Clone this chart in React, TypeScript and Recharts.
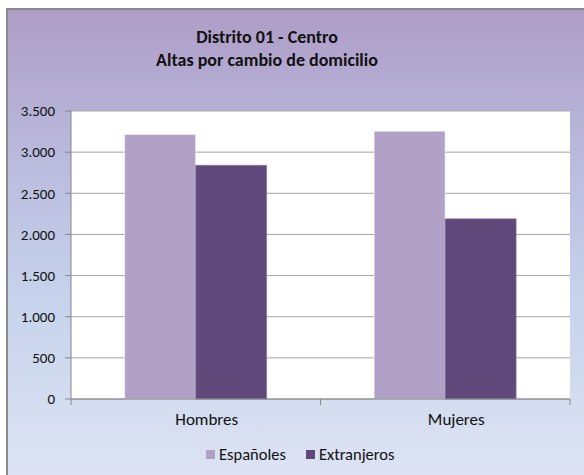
import React from 'react';
import { BarChart, Bar, XAxis, YAxis, CartesianGrid, Legend } from 'recharts';

const categories = ['Hombres', 'Mujeres'];
const espanoles = [3215, 3255];
const extranjeros = [2840, 2190];
const yTicks = [0, 500, 1000, 1500, 2000, 2500, 3000, 3500];

const data = categories.map((c, i) => ({ name: c, esp: espanoles[i], ext: extranjeros[i] }));

const FONT = 'Carlito, Lato, sans-serif';
const W = 577;
const H = 466;
const TICK_SIZE = 6;
const TICK_MARGIN = 8;

const fmt = (v: number) => String(v).replace(/\B(?=(\d{3})+(?!\d))/g, '.');

function CatTick(props: any) {
  const { x, y, payload } = props;
  const off = payload.offset || 0;
  const axisY = y - TICK_SIZE - TICK_MARGIN;
  return (
    <g>
      <line x1={x - off} x2={x - off} y1={axisY} y2={axisY + TICK_SIZE} stroke="#868686" />
      <line x1={x + off} x2={x + off} y1={axisY} y2={axisY + TICK_SIZE} stroke="#868686" />
      {/* excel pushes the category label a bit right of the band centre */}
      <text x={x + 11} y={y} dy="0.71em" textAnchor="middle" fontSize={17} fill="#111" fontFamily={FONT}>
        {payload.value}
      </text>
    </g>
  );
}

function LegendContent() {
  const items = [
    { label: 'Españoles', color: '#b2a1c7' },
    { label: 'Extranjeros', color: '#5f497a' },
  ];
  return (
    <div style={{ display: 'flex', alignItems: 'center', fontFamily: FONT, fontSize: 16.5, color: '#111' }}>
      {items.map((it) => (
        <div key={it.label} style={{ display: 'flex', alignItems: 'center', marginRight: 20 }}>
          <span style={{ width: 9, height: 9, background: it.color, marginRight: 4, display: 'inline-block' }} />
          <span>{it.label}</span>
        </div>
      ))}
    </div>
  );
}

export default function App() {
  return (
    <div
      style={{
        position: 'fixed',
        left: 6,
        top: 8,
        width: W,
        height: H,
        borderLeft: '2px solid #8a8a8a',
        borderTop: '2px solid #8a8a8a',
        background: 'linear-gradient(180deg, #ae9dc7 0%, #bbbddf 35%, #c6d3ec 62%, #dde3f3 100%)',
        fontFamily: FONT,
      }}
    >
      <div
        style={{
          position: 'absolute',
          left: 0,
          width: 518,
          top: 16,
          textAlign: 'center',
          fontWeight: 'bold',
          fontSize: 18,
          lineHeight: '23px',
          color: '#111',
        }}
      >
        <div>Distrito 01 - Centro</div>
        <div>Altas por cambio de domicilio</div>
      </div>
      <BarChart
        width={W}
        height={H}
        data={data}
        margin={{ top: 101, right: 15, bottom: 47, left: 0 }}
        barCategoryGap="21.5%"
        barGap={0}
      >
        <CartesianGrid vertical={false} stroke="#a6a6a6" fill="#ffffff" />
        <XAxis
          dataKey="name"
          height={30}
          axisLine={{ stroke: '#868686' }}
          tickLine={false}
          tickSize={TICK_SIZE}
          tickMargin={TICK_MARGIN}
          tick={<CatTick />}
        />
        <YAxis
          width={63}
          domain={[0, 3500]}
          ticks={yTicks}
          interval={0}
          tickFormatter={fmt}
          axisLine={{ stroke: '#868686' }}
          tickLine={{ stroke: '#868686' }}
          tickSize={6}
          tickMargin={10}
          tick={{ fontSize: 15, fill: '#111', fontFamily: FONT }}
        />
        <Legend
          verticalAlign="middle"
          align="center"
          content={<LegendContent />}
          wrapperStyle={{ left: 198, top: 434, width: 300 }}
        />
        <Bar dataKey="esp" name="Españoles" fill="#b2a1c7" stroke="#ffffff" strokeOpacity={0.5} isAnimationActive={false} />
        <Bar dataKey="ext" name="Extranjeros" fill="#5f497a" stroke="#8a78a3" strokeOpacity={0.6} isAnimationActive={false} />
      </BarChart>
    </div>
  );
}
